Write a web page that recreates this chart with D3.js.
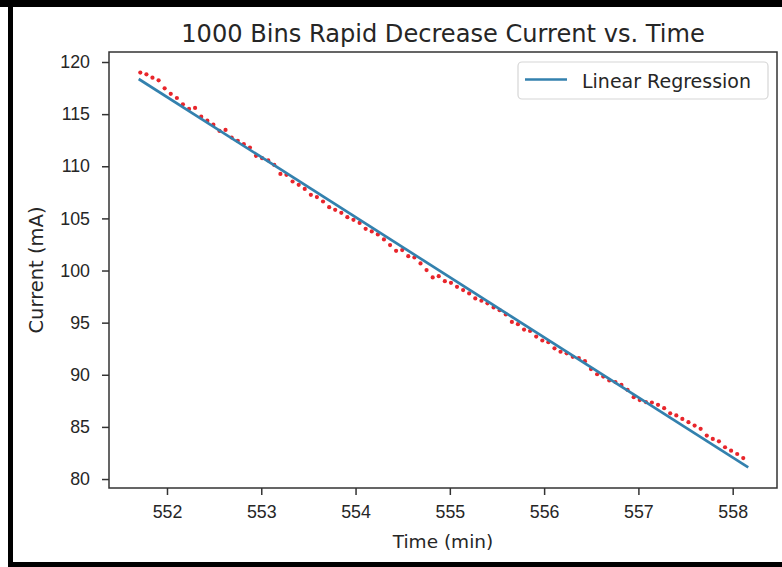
<!DOCTYPE html>
<html>
<head>
<meta charset="utf-8">
<title>1000 Bins Rapid Decrease Current vs. Time</title>
<script src="https://d3js.org/d3.v7.min.js"></script>
<style>
body { margin: 0; background: #fff; }
svg { display: block; font-family: "DejaVu Sans", sans-serif; }
.tick text { fill: #262626; }
</style>
</head>
<body>
<script>

var timeMin = [
  551.717, 551.782, 551.846, 551.911, 551.975, 552.040, 552.105, 552.169, 552.234, 552.298,
  552.363, 552.428, 552.492, 552.557, 552.621, 552.686, 552.751, 552.815, 552.880, 552.944,
  553.009, 553.074, 553.138, 553.203, 553.267, 553.332, 553.397, 553.461, 553.526, 553.590,
  553.655, 553.720, 553.784, 553.849, 553.913, 553.978, 554.043, 554.107, 554.172, 554.236,
  554.301, 554.366, 554.430, 554.495, 554.559, 554.624, 554.689, 554.753, 554.818, 554.882,
  554.947, 555.012, 555.076, 555.141, 555.205, 555.270, 555.335, 555.399, 555.464, 555.528,
  555.593, 555.658, 555.722, 555.787, 555.851, 555.916, 555.981, 556.045, 556.110, 556.174,
  556.239, 556.304, 556.368, 556.433, 556.497, 556.562, 556.627, 556.691, 556.756, 556.820,
  556.885, 556.950, 557.014, 557.079, 557.143, 557.208, 557.273, 557.337, 557.402, 557.466,
  557.531, 557.596, 557.660, 557.725, 557.789, 557.854, 557.919, 557.983, 558.048, 558.112
];

var currentMA = [
  118.99, 118.82, 118.50, 118.24, 117.48, 116.95, 116.55, 115.94, 115.50, 115.60,
  114.76, 114.37, 113.99, 113.39, 113.49, 112.76, 112.44, 112.12, 111.80, 111.00,
  110.78, 110.56, 110.13, 109.27, 109.18, 108.54, 108.22, 107.83, 107.26, 107.04,
  106.62, 106.08, 105.82, 105.53, 105.12, 104.86, 104.57, 104.00, 103.75, 103.46,
  102.98, 102.44, 101.89, 101.96, 101.38, 101.25, 100.68, 100.04, 99.34, 99.46,
  98.98, 98.82, 98.44, 98.12, 97.80, 97.32, 97.10, 96.85, 96.46, 96.20,
  95.79, 95.07, 94.85, 94.34, 94.20, 93.66, 93.29, 93.13, 92.54, 92.21,
  92.06, 91.72, 91.60, 91.30, 90.55, 90.05, 89.83, 89.45, 89.30, 89.03,
  88.55, 87.85, 87.57, 87.38, 87.34, 87.12, 86.80, 86.30, 86.10, 85.77,
  85.45, 85.13, 84.82, 84.17, 83.85, 83.62, 83.05, 82.72, 82.40, 82.01
];

// fitted line end points
var fitTime = [551.700, 558.165];
var fitCurrent = [118.37, 81.12];

var xTicks = [552, 553, 554, 555, 556, 557, 558];
var yTicks = [80, 85, 90, 95, 100, 105, 110, 115, 120];

var width = 782, height = 567;
var margin = {top: 52, right: 5, bottom: 79, left: 109};

var svg = d3.select("body").append("svg")
    .attr("width", width)
    .attr("height", height);

svg.append("rect")
    .attr("width", width)
    .attr("height", height)
    .attr("fill", "#fff");

var x = d3.scaleLinear()
    .domain([551.385, 558.47])
    .range([margin.left, width - margin.right]);

var y = d3.scaleLinear()
    .domain([79.14, 120.96])
    .range([height - margin.bottom, margin.top]);

// axes
var xAxis = svg.append("g")
    .attr("transform", "translate(0," + (height - margin.bottom) + ")")
    .call(d3.axisBottom(x).tickValues(xTicks).tickSize(7).tickPadding(10).tickSizeOuter(0));

var yAxis = svg.append("g")
    .attr("transform", "translate(" + margin.left + ",0)")
    .call(d3.axisLeft(y).tickValues(yTicks).tickSize(7).tickPadding(12).tickSizeOuter(0));

[xAxis, yAxis].forEach(function(a) {
  a.select(".domain").remove();
  a.selectAll(".tick line").attr("stroke", "#333").attr("stroke-width", 1.5);
  a.selectAll(".tick text").style("font-size", "17.8px");
});

// points
svg.append("g")
  .selectAll("circle")
  .data(timeMin)
  .enter().append("circle")
    .attr("cx", function(d) { return x(d); })
    .attr("cy", function(d, i) { return y(currentMA[i]); })
    .attr("r", 2.1)
    .attr("fill", "#e8252b");

// regression line
var line = d3.line()
    .x(function(d) { return x(d); })
    .y(function(d, i) { return y(fitCurrent[i]); });

svg.append("path")
    .datum(fitTime)
    .attr("d", line)
    .attr("fill", "none")
    .attr("stroke", "#3381ae")
    .attr("stroke-width", 2.7);

// axes box
svg.append("rect")
    .attr("x", margin.left)
    .attr("y", margin.top)
    .attr("width", width - margin.right - margin.left)
    .attr("height", height - margin.bottom - margin.top)
    .attr("fill", "none")
    .attr("stroke", "#333")
    .attr("stroke-width", 1.5);

// title and labels
svg.append("text")
    .attr("x", (margin.left + width - margin.right) / 2)
    .attr("y", 42)
    .attr("text-anchor", "middle")
    .style("font-size", "24.1px")
    .attr("fill", "#262626")
    .text("1000 Bins Rapid Decrease Current vs. Time");

svg.append("text")
    .attr("x", (margin.left + width - margin.right) / 2)
    .attr("y", 548)
    .attr("text-anchor", "middle")
    .style("font-size", "18.5px")
    .attr("fill", "#262626")
    .text("Time (min)");

svg.append("text")
    .attr("transform", "translate(43," + ((margin.top + height - margin.bottom) / 2) + ") rotate(-90)")
    .attr("text-anchor", "middle")
    .style("font-size", "19.5px")
    .attr("fill", "#262626")
    .text("Current (mA)");

// legend
var legend = svg.append("g");
legend.append("rect")
    .attr("x", 518)
    .attr("y", 62)
    .attr("width", 250)
    .attr("height", 37)
    .attr("rx", 4)
    .attr("fill", "#fff")
    .attr("stroke", "#d6d6d6")
    .attr("stroke-width", 1.2);
legend.append("line")
    .attr("x1", 525).attr("x2", 567)
    .attr("y1", 79.5).attr("y2", 79.5)
    .attr("stroke", "#3381ae")
    .attr("stroke-width", 2.7);
legend.append("text")
    .attr("x", 582)
    .attr("y", 88)
    .style("font-size", "19px")
    .attr("fill", "#262626")
    .text("Linear Regression");

// black frame of the screenshot
svg.append("rect").attr("x", 0).attr("y", 0).attr("width", width).attr("height", 7).attr("fill", "#000");
svg.append("rect").attr("x", 8).attr("y", 0).attr("width", 5).attr("height", height).attr("fill", "#000");
svg.append("rect").attr("x", 8).attr("y", 562).attr("width", width - 8).attr("height", 5).attr("fill", "#000");

</script>
</body>
</html>
